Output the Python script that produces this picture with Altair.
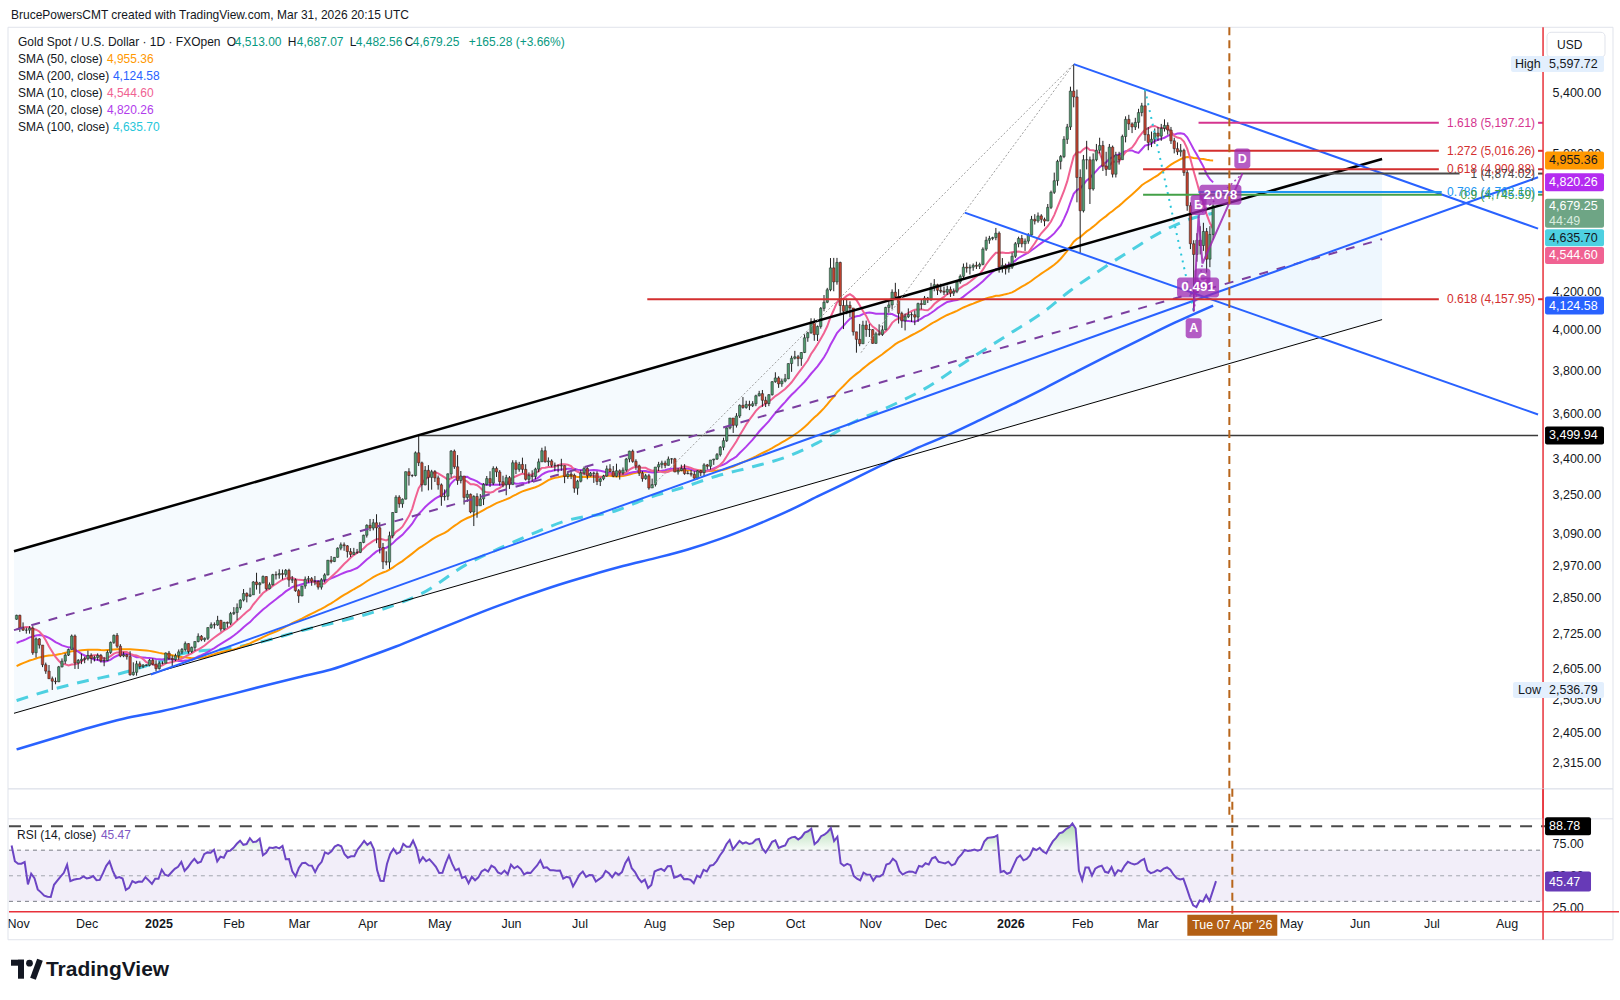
import numpy as np
import pandas as pd
import altair as alt

# ---------------------------------------------------------------- data
FONT = "Liberation Sans"
INK = "#131722"

# closes before the first drawn candle (warm-up for the short SMAs and RSI)
PRE_CLOSES = [2504, 2514, 2512, 2485, 2512, 2518, 2525, 2504, 2521, 2503,
              2500, 2493, 2495, 2516, 2497, 2506, 2516, 2512, 2558, 2578, 2582,
              2570, 2559, 2587, 2622, 2628, 2657, 2657, 2672, 2658, 2634,
              2663, 2657, 2656, 2653, 2644, 2622, 2608, 2630, 2657, 2649, 2662,
              2674, 2693, 2721, 2720, 2748, 2715, 2736, 2747, 2743, 2774]
FIRST_OPEN = 2774

# daily bars (high, low, close); open = previous close
OCT24 = [(2790, 2772, 2788), (2790, 2730, 2744)]
NOV24 = [(2763, 2733, 2736), (2745, 2724, 2736), (2750, 2724, 2743), (2750, 2652, 2659), (2711, 2643, 2706),
         (2709, 2673, 2685), (2685, 2611, 2619), (2626, 2589, 2598), (2618, 2572, 2573), (2580, 2536.79, 2565),
         (2577, 2555, 2563), (2615, 2562, 2612), (2640, 2610, 2631), (2657, 2622, 2651), (2673, 2648, 2670),
         (2721, 2669, 2716), (2721, 2605, 2625), (2638, 2605, 2633), (2656, 2621, 2637), (2646, 2624, 2639),
         (2666, 2633, 2650)]
DEC24 = [(2657, 2623, 2640), (2649, 2630, 2643), (2657, 2633, 2650), (2655, 2626, 2632), (2645, 2614, 2633),
         (2667, 2631, 2660), (2697, 2655, 2694), (2721, 2689, 2718), (2726, 2675, 2681), (2688, 2644, 2648),
         (2662, 2644, 2652), (2655, 2636, 2646), (2664, 2583, 2586), (2627, 2583, 2594), (2632, 2583, 2622),
         (2630, 2605, 2613), (2621, 2608, 2618), (2620, 2614, 2617), (2638, 2614, 2634), (2640, 2617, 2621),
         (2634, 2597, 2606), (2630, 2603, 2624)]
JAN25 = [(2630, 2620, 2624), (2660, 2624, 2658), (2665, 2635, 2640), (2650, 2614, 2636), (2656, 2631, 2649),
         (2670, 2636, 2662), (2675, 2654, 2670), (2697, 2663, 2690), (2691, 2656, 2663), (2680, 2658, 2677),
         (2697, 2665, 2697), (2725, 2694, 2715), (2719, 2698, 2703), (2711, 2696, 2708), (2746, 2702, 2745),
         (2763, 2741, 2755), (2763, 2741, 2754), (2786, 2751, 2770), (2772, 2731, 2740), (2765, 2736, 2763),
         (2766, 2745, 2760), (2800, 2754, 2794), (2817, 2789, 2798)]
FEB25 = [(2830, 2771, 2815), (2845, 2808, 2842), (2882, 2837, 2866), (2870, 2834, 2856), (2887, 2853, 2861),
         (2911, 2862, 2908), (2942, 2880, 2898), (2908, 2865, 2904), (2932, 2903, 2928), (2929, 2877, 2883),
         (2906, 2881, 2898), (2938, 2895, 2935), (2947, 2917, 2934), (2955, 2920, 2939), (2954, 2917, 2936),
         (2956, 2927, 2951), (2957, 2890, 2915), (2930, 2904, 2916), (2921, 2872, 2876), (2882, 2832, 2857)]
MAR25 = [(2894, 2856, 2893), (2928, 2883, 2918), (2930, 2905, 2920), (2926, 2894, 2911), (2930, 2896, 2910),
         (2914, 2880, 2889), (2922, 2880, 2916), (2940, 2906, 2934), (2990, 2932, 2989), (3005, 2977, 2984),
         (3001, 2982, 3000), (3038, 2999, 3035), (3057, 3027, 3048), (3057, 3025, 3044), (3047, 2999, 3022),
         (3035, 3001, 3011), (3036, 3010, 3019), (3032, 3013, 3019), (3059, 3016, 3057), (3087, 3054, 3085),
         (3128, 3076, 3124)]
APR25 = [(3149, 3101, 3113), (3149, 3104, 3134), (3168, 3054, 3114), (3136, 3015, 3037), (3055, 2956, 2983),
         (3023, 2970, 2982), (3099, 2957, 3083), (3176, 3073, 3175), (3245, 3173, 3237), (3245, 3194, 3210),
         (3232, 3194, 3229), (3344, 3228, 3343), (3358, 3285, 3327), (3332, 3320, 3327), (3430, 3323, 3424),
         (3499.94, 3367, 3381), (3386, 3260, 3288), (3367, 3286, 3349), (3371, 3265, 3319), (3351, 3268, 3343),
         (3350, 3300, 3317), (3327, 3268, 3288)]
MAY25 = [(3294, 3202, 3239), (3269, 3223, 3241), (3336, 3225, 3334), (3436, 3318, 3431), (3438, 3355, 3364),
         (3414, 3288, 3306), (3346, 3294, 3325), (3265, 3207, 3236), (3266, 3218, 3249), (3252, 3172, 3177),
         (3245, 3121, 3240), (3253, 3154, 3202), (3250, 3205, 3230), (3295, 3205, 3290), (3325, 3285, 3314),
         (3345, 3279, 3295), (3366, 3287, 3357), (3365, 3321, 3342), (3350, 3285, 3301), (3326, 3278, 3288),
         (3330, 3245, 3318), (3325, 3271, 3289)]
JUN25 = [(3392, 3289, 3381), (3392, 3333, 3353), (3385, 3343, 3374), (3403, 3338, 3353), (3375, 3306, 3311),
         (3340, 3293, 3326), (3349, 3300, 3323), (3360, 3311, 3354), (3399, 3341, 3385), (3446, 3385, 3433),
         (3452, 3382, 3385), (3404, 3367, 3389), (3396, 3362, 3370), (3382, 3345, 3370), (3373, 3340, 3368),
         (3398, 3347, 3369), (3370, 3295, 3323), (3345, 3313, 3333), (3350, 3312, 3328), (3335, 3255, 3274),
         (3309, 3247, 3303)]
JUL25 = [(3350, 3298, 3338), (3365, 3328, 3357), (3366, 3311, 3326), (3342, 3323, 3337), (3343, 3296, 3336),
         (3345, 3287, 3302), (3318, 3283, 3313), (3330, 3307, 3325), (3369, 3322, 3355), (3375, 3341, 3344),
         (3367, 3320, 3324), (3377, 3320, 3347), (3353, 3310, 3338), (3361, 3330, 3350), (3402, 3343, 3397),
         (3433, 3383, 3431), (3438, 3381, 3387), (3396, 3351, 3368), (3373, 3325, 3337), (3345, 3301, 3314),
         (3334, 3309, 3326), (3334, 3268, 3275), (3314, 3281, 3289)]
AUG25 = [(3363, 3281, 3363), (3385, 3346, 3373), (3390, 3357, 3380), (3390, 3358, 3370), (3408, 3369, 3397),
         (3401, 3377, 3398), (3402, 3341, 3342), (3359, 3331, 3348), (3373, 3345, 3356), (3375, 3330, 3335),
         (3347, 3332, 3336), (3350, 3323, 3332), (3345, 3311, 3316), (3349, 3311, 3347), (3351, 3325, 3339),
         (3379, 3322, 3372), (3376, 3352, 3366), (3393, 3352, 3393), (3398, 3372, 3397), (3423, 3393, 3416),
         (3453, 3408, 3448)]
SEP25 = [(3490, 3435, 3477), (3540, 3471, 3533), (3578, 3527, 3578), (3565, 3511, 3545), (3600, 3535, 3587),
         (3640, 3578, 3636), (3674, 3620, 3626), (3657, 3620, 3640), (3657, 3614, 3634), (3655, 3628, 3643),
         (3685, 3632, 3680), (3703, 3677, 3690), (3707, 3629, 3659), (3676, 3628, 3644), (3688, 3632, 3685),
         (3749, 3681, 3746), (3791, 3741, 3764), (3772, 3717, 3736), (3761, 3722, 3749), (3783, 3743, 3760),
         (3834, 3758, 3833), (3871, 3793, 3859)]
OCT25 = [(3895, 3853, 3866), (3875, 3820, 3857), (3889, 3822, 3887), (3977, 3884, 3960), (3990, 3940, 3985),
         (4059, 3980, 4040), (4058, 3945, 3976), (4022, 3944, 4017), (4117, 4006, 4110), (4180, 4095, 4142),
         (4218, 4137, 4208), (4380, 4200, 4326), (4381, 4200, 4250), (4381, 4235, 4356), (4360, 4082, 4125),
         (4160, 4004, 4095), (4161, 4080, 4126), (4147, 4064, 4112), (4097, 3971, 3990), (3990, 3886, 3952),
         (4030, 3918, 3930), (4046, 3930, 4024), (4047, 3965, 4002)]
NOV25 = [(4030, 3964, 4001), (4004, 3930, 3932), (3990, 3930, 3980), (4028, 3970, 3977), (4022, 3969, 4000),
         (4118, 3998, 4115), (4148, 4087, 4128), (4210, 4105, 4195), (4245, 4158, 4171), (4211, 4032, 4084),
         (4093, 4010, 4046), (4083, 3997, 4067), (4110, 4060, 4078), (4090, 4040, 4077), (4098, 4024, 4065),
         (4140, 4040, 4135), (4157, 4105, 4130), (4175, 4134, 4164), (4170, 4138, 4155), (4245, 4150, 4220)]
DEC25 = [(4265, 4200, 4235), (4240, 4180, 4205), (4240, 4190, 4200), (4225, 4180, 4195), (4230, 4180, 4210),
         (4225, 4170, 4190), (4215, 4175, 4200), (4260, 4190, 4250), (4290, 4240, 4280), (4350, 4270, 4330),
         (4355, 4300, 4325), (4345, 4290, 4330), (4350, 4310, 4340), (4360, 4320, 4335), (4355, 4320, 4345),
         (4440, 4340, 4430), (4500, 4420, 4480), (4505, 4460, 4490), (4500, 4480, 4495), (4550, 4480, 4520),
         (4530, 4300, 4330), (4380, 4300, 4340), (4350, 4290, 4320)]
JAN26 = [(4360, 4300, 4330), (4410, 4320, 4390), (4470, 4380, 4460), (4500, 4440, 4490), (4510, 4440, 4460),
         (4490, 4420, 4475), (4520, 4460, 4510), (4620, 4500, 4600), (4630, 4570, 4590), (4640, 4580, 4620),
         (4630, 4580, 4600), (4610, 4560, 4590), (4690, 4590, 4670), (4770, 4660, 4760), (4880, 4750, 4830),
         (4960, 4800, 4950), (4990, 4900, 4980), (5110, 4970, 5090), (5190, 5060, 5170), (5440, 5150, 5410),
         (5597.72, 5300, 5370), (5420, 4700, 4850)]
FEB26 = [(4900, 4405, 4650), (4990, 4640, 4960), (5080, 4900, 4960), (4980, 4690, 4780), (5000, 4770, 4960),
         (5060, 4950, 5020), (5100, 5000, 5050), (5080, 4890, 4920), (5010, 4860, 4900), (5060, 4900, 5040),
         (5050, 4850, 4870), (5010, 4850, 4990), (5010, 4930, 4960), (5120, 4960, 5107.8), (5240, 5070, 5220),
         (5250, 5150, 5190), (5200, 5130, 5170), (5230, 5150, 5200), (5290, 5160, 5265), (5330, 5240, 5310)]
MAR26 = [(5420, 5080, 5120), (5170, 5020, 5070), (5140, 5040, 5090), (5160, 5060, 5130), (5170, 5080, 5110),
         (5190, 5080, 5160), (5220, 5140, 5180), (5200, 5120, 5150), (5170, 5060, 5080), (5100, 5000, 5030),
         (5070, 4990, 5010), (5060, 4980, 5019.2), (5030, 4860, 4880), (4900, 4650, 4680), (4700, 4430, 4460),
         (4480, 4095, 4400), (4520, 4360, 4480), (4560, 4400, 4450), (4580, 4420, 4530), (4550, 4300, 4373.75),
         (4560, 4330, 4513), (4687.07, 4482.56, 4679.25)]

# longer moving averages (date, value)
SMA100_PTS = [("2024-10-30", 2503), ("2024-11-15", 2541), ("2024-11-28", 2565), ("2024-12-13", 2590),
              ("2024-12-27", 2622), ("2025-01-10", 2658), ("2025-01-31", 2676), ("2025-02-14", 2700),
              ("2025-03-03", 2735), ("2025-03-17", 2762), ("2025-04-07", 2810), ("2025-04-23", 2866),
              ("2025-05-13", 2975), ("2025-05-27", 3035), ("2025-06-10", 3090), ("2025-06-24", 3140),
              ("2025-07-16", 3183), ("2025-07-30", 3235), ("2025-08-13", 3275), ("2025-08-28", 3325),
              ("2025-09-12", 3364), ("2025-09-26", 3404), ("2025-10-10", 3467), ("2025-10-24", 3551),
              ("2025-11-13", 3643), ("2025-11-26", 3712), ("2025-12-12", 3835), ("2026-01-01", 3978),
              ("2026-01-16", 4095), ("2026-01-28", 4204), ("2026-02-10", 4312), ("2026-02-24", 4427),
              ("2026-03-10", 4537), ("2026-03-20", 4602), ("2026-03-31", 4635.70)]
SMA200_PTS = [("2024-10-30", 2353), ("2024-11-15", 2388), ("2024-12-02", 2420), ("2024-12-16", 2446),
              ("2025-01-01", 2470), ("2025-01-16", 2497), ("2025-01-31", 2525), ("2025-02-14", 2552),
              ("2025-02-28", 2578), ("2025-03-14", 2603), ("2025-03-28", 2640), ("2025-04-11", 2680),
              ("2025-04-25", 2725), ("2025-05-09", 2770), ("2025-05-23", 2815), ("2025-06-06", 2857),
              ("2025-06-20", 2897), ("2025-07-04", 2933), ("2025-07-18", 2967), ("2025-08-01", 2997),
              ("2025-08-15", 3030), ("2025-08-29", 3071), ("2025-09-12", 3120), ("2025-09-26", 3175),
              ("2025-10-10", 3240), ("2025-10-24", 3305), ("2025-11-07", 3372), ("2025-11-21", 3440),
              ("2025-12-05", 3500), ("2025-12-19", 3568), ("2026-01-02", 3640), ("2026-01-16", 3715),
              ("2026-01-30", 3795), ("2026-02-13", 3875), ("2026-02-27", 3955), ("2026-03-13", 4035),
              ("2026-03-31", 4124.58)]

# drawings: (session number from 2 Jan 2025, price)
CHANNEL_TOP = [(-46.8, 3023.3), (375.1, 4965.0)]
CHANNEL_BOTTOM = [(-46.8, 2463.0), (375.1, 4052.0)]
CHANNEL_MID = [(-46.8, 2736.0), (375.1, 4486.0)]
RISING_BLUE = [(-4.6, 2587.0), (423.2, 4851.0)]
FALLING_BLUE_UPPER = [(280, 5597.72), (423.2, 4546.0)]
FALLING_BLUE_LOWER = [(246.4, 4639.0), (423.2, 3594.0)]
GRAY_DOTTED = [[(149.5, 3276.0), (280, 5597.72)], [(214.4, 3886.0), (280, 5597.72)]]
XA_LEG = [(302, 5420.0), (317, 4095.0)]
RES_LINE = (78, 3499.94)
ABCD = {"A": (317, 4095.0), "B": (318.5, 4620.0), "C": (319.7, 4350.0), "D": (332, 4874.0)}
ABCD_RATIOS = [("0.491", "A", "C"), ("2.078", "B", "D")]
FIB_LEVELS = [  # label, value, start, end, colour
    ("1.618", 5197.21, 318.5, 392.6, "#d5348f"),
    ("1.272", 5016.26, 318.5, 392.6, "#d32f2f"),
    ("0.618", 4900.88, 301.4, 392.6, "#d32f2f"),
    ("1", 4874.02, 318.5, 399.0, "#4a4a4a"),
    ("0.786", 4762.10, 318.5, 393.5, "#2196f3"),
    ("0.9", 4745.59, 301.4, 393.5, "#43a047"),
    ("0.618", 4157.95, 148.5, 392.6, "#d32f2f"),
]
MARKER_DATE = "2026-04-07"
RSI_LINE_LEVEL = 88.78
RSI_LAST = 45.47

# ---------------------------------------------------------------- prepare
bars = (OCT24 + NOV24 + DEC24 + JAN25 + FEB25 + MAR25 + APR25 + MAY25 + JUN25 + JUL25 + AUG25 +
        SEP25 + OCT25 + NOV25 + DEC25 + JAN26 + FEB26 + MAR26)
n = len(bars)
dates = pd.bdate_range("2024-10-30", periods=n)
assert str(dates[-1].date()) == "2026-03-31", dates[-1]
ext = pd.bdate_range("2024-10-01", "2026-08-31")
origin = ext.get_loc(pd.Timestamp("2025-01-02"))


def sess(d):
    return ext.get_loc(pd.Timestamp(d)) - origin


highs = np.array([b[0] for b in bars], float)
lows = np.array([b[1] for b in bars], float)
closes = np.array([b[2] for b in bars], float)
opens = np.concatenate([[FIRST_OPEN], closes[:-1]])
highs = np.maximum(highs, np.maximum(opens, closes))
lows = np.minimum(lows, np.minimum(opens, closes))
idx = np.array([sess(t) for t in dates])

candles = pd.DataFrame({"i": idx, "o": opens, "h": highs, "l": lows, "c": closes})

allc = np.concatenate([np.array(PRE_CLOSES, float), closes])
npre = len(PRE_CLOSES)
ser = pd.Series(allc)
sma = {k: ser.rolling(k).mean().values[npre:] for k in (10, 20, 50)}

# Wilder RSI(14)
d = np.diff(allc)
g = np.where(d > 0, d, 0.0)
lo = np.where(d < 0, -d, 0.0)
ag, al = g[:14].mean(), lo[:14].mean()
rsi_all = np.full(len(allc), np.nan)
rsi_all[14] = 100 - 100 / (1 + ag / al)
for k in range(14, len(d)):
    ag = (ag * 13 + g[k]) / 14
    al = (al * 13 + lo[k]) / 14
    rsi_all[k + 1] = 100 - 100 / (1 + ag / al)
rsi = rsi_all[npre:]
rsi_df = pd.DataFrame({"i": idx, "r": rsi})
rsi_df["top"] = np.maximum(rsi_df["r"], 70)
rsi_df["base"] = 70.0

# ---------------------------------------------------------------- scales
W, H, RH = 1535, 762, 93
X_MIN, X_MAX = -46.8, 423.2
P_MIN, P_MAX = 2238.6, 5864.4
XS = alt.Scale(domain=[X_MIN, X_MAX], nice=False, zero=False)
YS = alt.Scale(type="log", domain=[P_MIN, P_MAX], nice=False)
RS = alt.Scale(domain=[21.875, 94.53], nice=False, zero=False)

YAX = alt.Axis(orient="right", values=[2315, 2405, 2505, 2605, 2725, 2850, 2970, 3090, 3250, 3400,
                                       3600, 3800, 4000, 4200, 5000, 5400],
               format=",.2f", ticks=False, tickSize=0, domain=False, grid=False, labelPadding=9,
               labelFont=FONT, labelFontSize=12.5, labelColor=INK, title=None, labelOverlap=False)
RAX = alt.Axis(orient="right", values=[25, 50, 75], format=".2f", ticks=False, tickSize=0, domain=False,
               grid=False, labelPadding=9, labelFont=FONT, labelFontSize=12.5, labelColor=INK, title=None,
               labelOverlap=False)

# month labels sit on the first session of each month; the one under the
# date-marker tag is left out, the tag takes its place
marker_s = sess(MARKER_DATE)
month_firsts = pd.Series(ext).groupby([ext.year, ext.month]).first()
tick_vals, tick_txt = [], []
for ts in month_firsts:
    s = int(sess(ts))
    if X_MIN < s < X_MAX and abs(s - marker_s) > 14:
        tick_vals.append(s)
        tick_txt.append(str(ts.year) if ts.month == 1 else ts.strftime("%b"))
label_expr = " : ".join(f"datum.value == {v} ? '{t}'" for v, t in zip(tick_vals, tick_txt)) + " : ''"
year_test = " || ".join(f"datum.value == {v}" for v, t in zip(tick_vals, tick_txt) if t.isdigit())
TAX = alt.Axis(orient="bottom", values=tick_vals, labelExpr=label_expr, ticks=False, tickSize=0,
               domain=False, grid=False, labelPadding=6, labelFont=FONT, labelFontSize=12.5,
               labelColor=INK, title=None, labelOverlap=False, labelFlush=False,
               labelFontWeight=alt.condition(year_test, alt.value(700), alt.value(400)))


def PX(f):
    return alt.X(f, type="quantitative", scale=XS, axis=None)


def PY(f):
    return alt.Y(f, type="quantitative", scale=YS, axis=YAX)


def RX(f):
    return alt.X(f, type="quantitative", scale=XS, axis=TAX)


def RY(f):
    return alt.Y(f, type="quantitative", scale=RS, axis=RAX)


def seg(pts, color, width, dash=None, opacity=1.0):
    df = pd.DataFrame({"x": [p[0] for p in pts], "p": [p[1] for p in pts]})
    kw = dict(color=color, strokeWidth=width, opacity=opacity, clip=True)
    if dash:
        kw["strokeDash"] = dash
    return alt.Chart(df).mark_line(**kw).encode(x=PX("x"), y=PY("p"))


def ptext(x, y, s, color=INK, size=12, weight="normal", align="left"):
    return alt.Chart(pd.DataFrame({"s": [s]})).mark_text(
        align=align, baseline="middle", fontSize=size, fontWeight=weight, color=color, font=FONT
    ).encode(x=alt.value(x), y=alt.value(y), text="s:N")


def prect(x0, x1, y0, y1, fill, stroke=None, sw=0, radius=0, opacity=1.0):
    kw = dict(fill=fill, cornerRadius=radius, fillOpacity=opacity)
    if stroke:
        kw.update(stroke=stroke, strokeWidth=sw)
    return alt.Chart(pd.DataFrame({"a": [0]})).mark_rect(**kw).encode(
        x=alt.value(x0), x2=alt.value(x1), y=alt.value(y0), y2=alt.value(y1))


def prule(x0, x1, y0, y1, color, width=1, dash=None):
    kw = dict(color=color, strokeWidth=width)
    if dash:
        kw["strokeDash"] = dash
    return alt.Chart(pd.DataFrame({"a": [0]})).mark_rule(**kw).encode(
        x=alt.value(x0), x2=alt.value(x1), y=alt.value(y0), y2=alt.value(y1))


def tag(value, text, bg, fg, y_of=PY, top=-9, bottom=9, x0=W + 2, x1=W + 61, tx=W + 6, dy=0):
    df = pd.DataFrame({"p": [value], "t": [text]})
    base = alt.Chart(df)
    box = base.mark_rect(fill=bg, yOffset=top, y2Offset=bottom, cornerRadius=2).encode(
        x=alt.value(x0), x2=alt.value(x1), y=y_of("p"), y2=alt.Y2("p"))
    lab = base.mark_text(align="left", baseline="middle", fontSize=12.5, color=fg, font=FONT, dy=dy).encode(
        x=alt.value(tx), y=y_of("p"), text="t:N")
    return [box, lab]


GREEN, RED, WICK = "#4e9a6e", "#c4432f", "#1f1f1f"

# ---------------------------------------------------------------- price pane
P = []
# canvas extent (transparent) and pane frame
P.append(prect(-9, W + 76, -27, H + 30, "white", opacity=0))
P.append(prect(-1, W + 70, 0, H, "white", "#e0e3eb", 1, opacity=0))
# channel shading
chan = pd.DataFrame({"x": [CHANNEL_TOP[0][0], CHANNEL_TOP[1][0]],
                     "t": [CHANNEL_TOP[0][1], CHANNEL_TOP[1][1]],
                     "b": [CHANNEL_BOTTOM[0][1], CHANNEL_BOTTOM[1][1]]})
P.append(alt.Chart(chan).mark_area(color="#2196f3", opacity=0.045).encode(
    x=PX("x"), y=PY("b"), y2=alt.Y2("t")))
fibbox = pd.DataFrame({"x": [318.5], "x2": [375.1], "t": [4874.02], "b": [4157.95]})
P.append(alt.Chart(fibbox).mark_rect(color="#2196f3", opacity=0.03).encode(
    x=PX("x"), x2=alt.X2("x2"), y=PY("b"), y2=alt.Y2("t")))

# moving averages
s100 = pd.DataFrame({"x": [sess(a) for a, _ in SMA100_PTS], "p": [b for _, b in SMA100_PTS]})
s200 = pd.DataFrame({"x": [sess(a) for a, _ in SMA200_PTS], "p": [b for _, b in SMA200_PTS]})
P.append(alt.Chart(s200).mark_line(color="#2962ff", strokeWidth=2.5, interpolate="monotone").encode(
    x=PX("x"), y=PY("p")))
P.append(alt.Chart(s100).mark_line(color="#4dd0e1", strokeWidth=3, strokeDash=[12, 9],
                                   interpolate="monotone").encode(x=PX("x"), y=PY("p")))
for k, col, wd in ((50, "#ff9800", 2), (20, "#b13cec", 2), (10, "#f06292", 2)):
    df = pd.DataFrame({"x": idx, "p": sma[k]}).dropna()
    P.append(alt.Chart(df).mark_line(color=col, strokeWidth=wd).encode(x=PX("x"), y=PY("p")))

# horizontal resistance
P.append(seg([RES_LINE, (X_MAX, RES_LINE[1])], "#3a3a3a", 1.6))

# candles
cb = alt.Chart(candles)
P.append(cb.mark_rule(color=WICK, strokeWidth=1).encode(x=PX("i"), y=PY("l"), y2=alt.Y2("h")))
P.append(cb.mark_bar(width=2.4, stroke=WICK, strokeWidth=0.5).encode(
    x=PX("i"), y=PY("o"), y2=alt.Y2("c"),
    color=alt.condition("datum.c >= datum.o", alt.value(GREEN), alt.value(RED))))

# trend drawings
P.append(seg(CHANNEL_BOTTOM, "#000000", 1))
P.append(seg(CHANNEL_TOP, "#000000", 2.5))
P.append(seg(CHANNEL_MID, "#7b3fa0", 2, [9, 9]))
P.append(seg(RISING_BLUE, "#2962ff", 2))
P.append(seg(FALLING_BLUE_UPPER, "#2962ff", 2))
P.append(seg(FALLING_BLUE_LOWER, "#2962ff", 2))
for g_ in GRAY_DOTTED:
    P.append(seg(g_, "#9e9e9e", 1, [2, 2]))
P.append(seg(XA_LEG, "#26c6da", 2, [2, 5]))

# fib levels
for lab, val, a, b, col in FIB_LEVELS:
    P.append(seg([(a, val), (b, val)], col, 2))
    df = pd.DataFrame({"p": [val], "t": [f"{lab} ({val:,.2f})"]})
    P.append(alt.Chart(df).mark_text(align="right", baseline="middle", fontSize=12, color=col, font=FONT).encode(
        x=alt.value(W - 8), y=PY("p"), text="t:N"))
    P.append(alt.Chart(df).mark_rule(color=col, strokeWidth=2).encode(
        x=alt.value(W - 5), x2=alt.value(W), y=PY("p")))

# ABCD pattern
PURPLE = "#9c27b0"
ab = [ABCD[k] for k in "ABCD"]
P.append(seg(ab, PURPLE, 2, opacity=0.85))
for _, s0, s1 in ABCD_RATIOS:
    P.append(seg([ABCD[s0], ABCD[s1]], PURPLE, 1.5, [2, 3], opacity=0.85))
lbl_off = {"A": 17, "B": -11, "C": 15, "D": -15}
for k, (x, p) in ABCD.items():
    df = pd.DataFrame({"x": [x], "p": [p], "t": [k]})
    o = lbl_off[k]
    P.append(alt.Chart(df).mark_rect(fill=PURPLE, opacity=0.75, cornerRadius=3, xOffset=-8, x2Offset=8,
                                     yOffset=o - 10, y2Offset=o + 10).encode(
        x=PX("x"), x2=alt.X2("x"), y=PY("p"), y2=alt.Y2("p")))
    P.append(alt.Chart(df).mark_text(color="white", fontSize=12.5, fontWeight="bold", font=FONT, dy=o).encode(
        x=PX("x"), y=PY("p"), text="t:N"))
for t, s0, s1 in ABCD_RATIOS:
    (x0, p0), (x1, p1) = ABCD[s0], ABCD[s1]
    df = pd.DataFrame({"x": [(x0 + x1) / 2], "p": [float(np.sqrt(p0 * p1))], "t": [t]})
    P.append(alt.Chart(df).mark_rect(fill=PURPLE, opacity=0.75, cornerRadius=3, xOffset=-21, x2Offset=21,
                                     yOffset=-10, y2Offset=10).encode(
        x=PX("x"), x2=alt.X2("x"), y=PY("p"), y2=alt.Y2("p")))
    P.append(alt.Chart(df).mark_text(color="white", fontSize=13.5, fontWeight="bold", font=FONT).encode(
        x=PX("x"), y=PY("p"), text="t:N"))

# date marker
mk = pd.DataFrame({"x": [marker_s]})
P.append(alt.Chart(mk).mark_rule(color="#b8651b", strokeWidth=2, strokeDash=[8, 5]).encode(
    x=PX("x"), y=alt.value(0), y2=alt.value(H + 30)))

# right edge line
P.append(prule(W, W, 0, H + 30, "#e8313a", 1.5))

# legend block
P.append(ptext(2, -12, "BrucePowersCMT created with TradingView.com, Mar 31, 2026 20:15 UTC", INK, 12))
VALC = "#089981"
legend_row = [(9, "Gold Spot / U.S. Dollar · 1D · FXOpen", INK), (218, "O", INK), (226, "4,513.00", VALC),
              (279, "H", INK), (288, "4,687.07", VALC), (341, "L", INK), (347, "4,482.56", VALC),
              (396, "C", INK), (404, "4,679.25", VALC), (460, "+165.28 (+3.66%)", VALC)]
for x, s, c in legend_row:
    P.append(ptext(x, 15, s, c, 12))
sma_rows = [("SMA (50, close)", "4,955.36", "#ff9800", 98), ("SMA (200, close)", "4,124.58", "#2962ff", 104),
            ("SMA (10, close)", "4,544.60", "#f06292", 98), ("SMA (20, close)", "4,820.26", "#b13cec", 98),
            ("SMA (100, close)", "4,635.70", "#26c6da", 104)]
for r, (a, b, c, xv) in enumerate(sma_rows):
    P.append(ptext(9, 32 + 17 * r, a, INK, 12))
    P.append(ptext(xv, 32 + 17 * r, b, c, 12))

# axis box and price tags
P.append(prect(W + 4, W + 62, 5, 30, "white", "#e0e3eb", 1, 4))
P.append(ptext(W + 14, 17.5, "USD", INK, 12))
P += tag(5597.72, "5,597.72", "#e3effd", INK, x0=W - 32, top=-8, bottom=8)
P.append(alt.Chart(pd.DataFrame({"p": [5597.72]})).mark_text(
    align="left", fontSize=12.5, color=INK, font=FONT).encode(x=alt.value(W - 28), y=PY("p"), text=alt.value("High")))
P += tag(2536.79, "2,536.79", "#e3effd", INK, x0=W - 30, top=-8, bottom=8)
P.append(alt.Chart(pd.DataFrame({"p": [2536.79]})).mark_text(
    align="left", fontSize=12.5, color=INK, font=FONT).encode(x=alt.value(W - 25), y=PY("p"), text=alt.value("Low")))
P += tag(4955.36, "4,955.36", "#ff9800", INK)
P += tag(4820.26, "4,820.26", "#b42cf0", "white")
P += tag(4679.25, "4,679.25", "#6ea585", "white", top=-7, bottom=22)
P.append(alt.Chart(pd.DataFrame({"p": [4679.25]})).mark_text(
    align="left", fontSize=12.5, color="#d8ecdf", font=FONT, dy=15).encode(
    x=alt.value(W + 6), y=PY("p"), text=alt.value("44:49")))
P += tag(4635.70, "4,635.70", "#4dd0e1", INK, top=16, bottom=33, dy=24.5)
P += tag(4544.60, "4,544.60", "#f06292", "white", top=18, bottom=35, dy=26.5)
P += tag(4124.58, "4,124.58", "#2962ff", "white")
P += tag(3499.94, "3,499.94", "#000000", "white")

price = alt.layer(*P).properties(width=W, height=H)

# ---------------------------------------------------------------- RSI pane
R = []
R.append(prect(-9, W + 76, -30, RH + 90, "white", opacity=0))
R.append(prule(-1, W + 70, -30, -30, "#e0e3eb", 1))
R.append(prule(-1, W + 70, 0, 0, "#e0e3eb", 1))
R.append(prule(-1, -1, -30, RH + 28, "#e0e3eb", 1))
R.append(prule(W + 70, W + 70, -30, RH + 28, "#e0e3eb", 1))
R.append(prule(-1, W + 70, RH + 28, RH + 28, "#e0e3eb", 1))
band = pd.DataFrame({"a": [70.0], "b": [30.0]})
R.append(alt.Chart(band).mark_rect(color="#7e57c2", opacity=0.1).encode(
    x=alt.value(0), x2=alt.value(W), y=RY("a"), y2=alt.Y2("b")))
lv = pd.DataFrame({"v": [70.0, 30.0]})
R.append(alt.Chart(lv).mark_rule(color="#787b86", strokeWidth=1, strokeDash=[4, 4]).encode(
    x=alt.value(0), x2=alt.value(W), y=RY("v")))
R.append(alt.Chart(pd.DataFrame({"v": [50.0]})).mark_rule(color="#a3a6af", strokeWidth=1, strokeDash=[4, 4]).encode(
    x=alt.value(0), x2=alt.value(W), y=RY("v")))
R.append(alt.Chart(pd.DataFrame({"v": [RSI_LINE_LEVEL]})).mark_rule(color="#4a4a4a", strokeWidth=2, strokeDash=[12, 9]).encode(
    x=alt.value(0), x2=alt.value(W + 2), y=RY("v")))
grad = alt.Gradient(gradient="linear", x1=0, x2=0, y1=0, y2=1,
                    stops=[alt.GradientStop(color="rgba(76,175,80,0.45)", offset=0),
                           alt.GradientStop(color="rgba(76,175,80,0.04)", offset=1)])
R.append(alt.Chart(rsi_df.dropna()).mark_area(color=grad).encode(x=RX("i"), y=RY("top"), y2=alt.Y2("base")))
R.append(alt.Chart(rsi_df.dropna()).mark_line(color="#6c45c4", strokeWidth=2).encode(x=RX("i"), y=RY("r")))
R.append(alt.Chart(mk).mark_rule(color="#b8651b", strokeWidth=2, strokeDash=[8, 5]).encode(
    x=RX("x"), y=alt.value(-30), y2=alt.value(RH + 3)))
R.append(prule(W, W, -30, RH + 28, "#e8313a", 1.5))
R.append(prule(0, W + 76, RH, RH, "#e8313a", 1.5))
R.append(ptext(8, 16, "RSI (14, close)", INK, 12))
R.append(ptext(92, 16, f"{RSI_LAST:.2f}", "#7e57c2", 12))
R += tag(RSI_LINE_LEVEL, f"{RSI_LINE_LEVEL:.2f}", "#000000", "white", y_of=RY, x1=W + 48)
R += tag(RSI_LAST, f"{RSI_LAST:.2f}", "#673ab7", "white", y_of=RY, x1=W + 48, top=-10, bottom=10)
# date marker tag on the time axis
mt = pd.DataFrame({"x": [marker_s], "t": [pd.Timestamp(MARKER_DATE).strftime("%a %d %b '%y")]})
R.append(alt.Chart(mt).mark_rect(fill="#b35f14", xOffset=-45, x2Offset=45).encode(
    x=RX("x"), x2=alt.X2("x"), y=alt.value(RH + 3), y2=alt.value(RH + 24)))
R.append(alt.Chart(mt).mark_text(color="white", fontSize=12.5, font=FONT).encode(
    x=RX("x"), y=alt.value(RH + 13.5), text="t:N"))
# wordmark
R.append(prect(2, 15, 141, 147, "#131722"))
R.append(prect(9, 15, 141, 160, "#131722"))
R.append(alt.Chart(pd.DataFrame({"a": [0]})).mark_point(filled=True, color="#131722", size=45, opacity=1).encode(
    x=alt.value(20.5), y=alt.value(144.5)))
R.append(alt.Chart(pd.DataFrame({"a": [0]})).mark_rule(color="#131722", strokeWidth=6).encode(
    x=alt.value(31), x2=alt.value(24), y=alt.value(141), y2=alt.value(160)))
R.append(ptext(37, 151, "TradingView", "#131722", 21, "bold"))

rsi_chart = alt.layer(*R).properties(width=W, height=RH)

chart = alt.vconcat(price, rsi_chart, spacing=30, bounds="flush").properties(
    padding=0, background="white").configure_view(stroke=None)

chart.save("out.html", embed_options={"renderer": "svg", "actions": False})
